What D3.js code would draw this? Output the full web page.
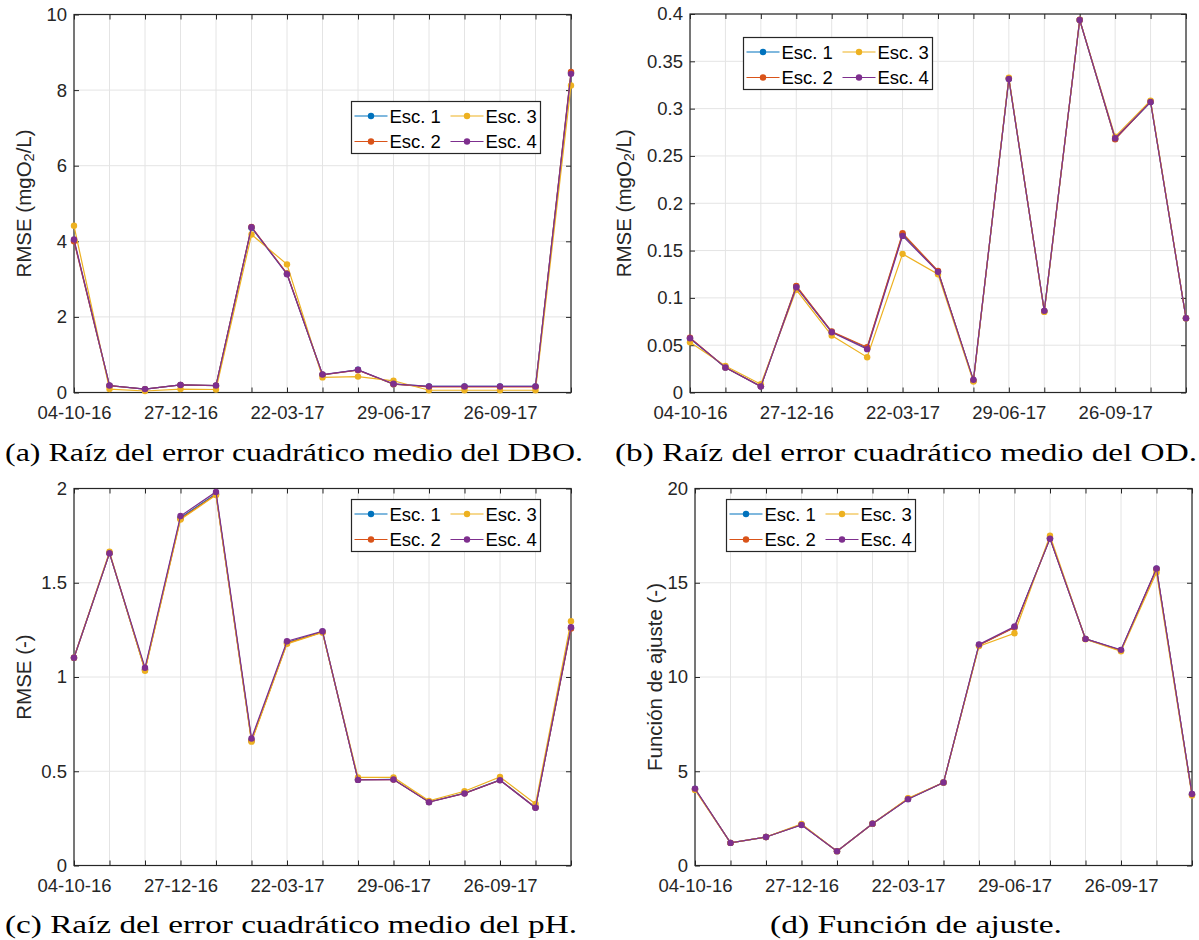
<!DOCTYPE html>
<html><head><meta charset="utf-8">
<script src="https://cdn.jsdelivr.net/npm/d3@7"></script>
<style>body{margin:0;background:#fff}svg{display:block}</style>
</head><body>
<svg id="fig" width="1199" height="940"></svg>
<script>
// ---------- data ----------
const nPoints = 15;
const tickPositions = [0, 3, 6, 9, 12];
const tickLabels = ["04-10-16", "27-12-16", "22-03-17", "29-06-17", "26-09-17"];
const seriesNames = ["Esc. 1", "Esc. 2", "Esc. 3", "Esc. 4"];
const seriesColors = ["#0072BD", "#D95319", "#EDB120", "#7E2F8E"];

const dbo1 = [4.02, 0.18, 0.09, 0.20, 0.18, 4.36, 3.14, 0.47, 0.60, 0.22, 0.16, 0.16, 0.16, 0.16, 8.45];
const dbo2 = [4.00, 0.18, 0.09, 0.20, 0.18, 4.38, 3.15, 0.47, 0.59, 0.22, 0.15, 0.15, 0.15, 0.15, 8.48];
const dbo3 = [4.41, 0.09, 0.04, 0.09, 0.08, 4.18, 3.39, 0.40, 0.42, 0.31, 0.06, 0.06, 0.06, 0.06, 8.12];
const dbo4 = [4.05, 0.185, 0.09, 0.20, 0.185, 4.37, 3.13, 0.475, 0.60, 0.23, 0.16, 0.16, 0.16, 0.16, 8.43];

const od1 = [0.057, 0.0265, 0.0065, 0.112, 0.064, 0.047, 0.167, 0.128, 0.0125, 0.3315, 0.086, 0.3937, 0.268, 0.307, 0.0785];
const od2 = [0.058, 0.0265, 0.0065, 0.1127, 0.0644, 0.0479, 0.1683, 0.1285, 0.0125, 0.332, 0.086, 0.394, 0.2676, 0.3075, 0.0785];
const od3 = [0.053, 0.028, 0.0088, 0.1085, 0.0602, 0.0373, 0.1465, 0.125, 0.0116, 0.3327, 0.0852, 0.3937, 0.2704, 0.3085, 0.0785];
const od4 = [0.0574, 0.0264, 0.0063, 0.1113, 0.0637, 0.0458, 0.1655, 0.1275, 0.0134, 0.3313, 0.0863, 0.3937, 0.2687, 0.307, 0.0785];

const ph1 = [1.102, 1.657, 1.040, 1.845, 1.972, 0.665, 1.183, 1.240, 0.455, 0.457, 0.337, 0.384, 0.454, 0.308, 1.260];
const ph2 = [1.102, 1.657, 1.039, 1.840, 1.968, 0.662, 1.180, 1.238, 0.455, 0.456, 0.337, 0.383, 0.453, 0.308, 1.257];
const ph3 = [1.102, 1.665, 1.033, 1.835, 1.965, 0.657, 1.176, 1.236, 0.467, 0.467, 0.343, 0.394, 0.470, 0.326, 1.296];
const ph4 = [1.102, 1.657, 1.049, 1.854, 1.982, 0.674, 1.190, 1.243, 0.454, 0.456, 0.336, 0.382, 0.452, 0.306, 1.264];

const fa1 = [4.06, 1.20, 1.51, 2.17, 0.76, 2.22, 3.53, 4.40, 11.70, 12.64, 17.36, 12.02, 11.42, 15.74, 3.78];
const fa2 = [4.05, 1.20, 1.51, 2.17, 0.76, 2.22, 3.54, 4.40, 11.68, 12.62, 17.36, 12.02, 11.40, 15.72, 3.77];
const fa3 = [4.01, 1.20, 1.51, 2.20, 0.76, 2.22, 3.57, 4.40, 11.64, 12.32, 17.50, 12.00, 11.36, 15.55, 3.71];
const fa4 = [4.08, 1.20, 1.51, 2.15, 0.76, 2.22, 3.52, 4.40, 11.73, 12.68, 17.34, 12.02, 11.44, 15.76, 3.79];

const yTicksA = [0, 2, 4, 6, 8, 10];
const yTicksB = [0, 0.05, 0.1, 0.15, 0.2, 0.25, 0.3, 0.35, 0.4];
const yTicksC = [0, 0.5, 1, 1.5, 2];
const yTicksD = [0, 5, 10, 15, 20];

// ---------- layout ----------
const svg = d3.select("#fig");
const AX = "#262626", GRID = "#e4e4e4";
const SANS = "'Liberation Sans', Arial, sans-serif";
const TICKFONT = "18.5px " + SANS;

const panels = [
  {series: [dbo1, dbo2, dbo3, dbo4], yTicks: yTicksA, yMax: 10, x0: 74, x1: 571, y0: 14.5, y1: 392.5,
   ylabel: ["RMSE (mgO", "2", "/L)"], ylabelX: 23, legend: {x: 351.5, y: 101.5},
   caption: "(a) Raíz del error cuadrático medio del DBO.", capX: 5, capW: 578, capY: 461},
  {series: [od1, od2, od3, od4], yTicks: yTicksB, yMax: 0.4, x0: 690, x1: 1186, y0: 14, y1: 392.5,
   ylabel: ["RMSE (mgO", "2", "/L)"], ylabelX: 623, legend: {x: 743.5, y: 37.5},
   caption: "(b) Raíz del error cuadrático medio del OD.", capX: 615, capW: 582, capY: 461},
  {series: [ph1, ph2, ph3, ph4], yTicks: yTicksC, yMax: 2, x0: 74, x1: 571, y0: 488.5, y1: 865.5,
   ylabel: ["RMSE (-)"], ylabelX: 23, legend: {x: 351.5, y: 499.5},
   caption: "(c) Raíz del error cuadrático medio del pH.", capX: 5, capW: 572, capY: 933},
  {series: [fa1, fa2, fa3, fa4], yTicks: yTicksD, yMax: 20, x0: 695, x1: 1192, y0: 488.5, y1: 865.5,
   ylabel: ["Función de ajuste (-)"], ylabelX: 654, legend: {x: 726.5, y: 499.5},
   caption: "(d) Función de ajuste.", capX: 770, capW: 292, capY: 933}
];

panels.forEach(p => {
  const g = svg.append("g");
  const x = d3.scaleLinear().domain([0, nPoints - 1]).range([p.x0, p.x1]);
  const y = d3.scaleLinear().domain([0, p.yMax]).range([p.y1, p.y0]);
  const allX = d3.range(nPoints);

  // grid
  g.append("g").selectAll("line").data(allX).join("line")
    .attr("x1", d => x(d)).attr("x2", d => x(d)).attr("y1", p.y0).attr("y2", p.y1)
    .attr("stroke", GRID).attr("stroke-width", 1);
  g.append("g").selectAll("line").data(p.yTicks).join("line")
    .attr("x1", p.x0).attr("x2", p.x1).attr("y1", d => y(d)).attr("y2", d => y(d))
    .attr("stroke", GRID).attr("stroke-width", 1);

  // axes (ticks inward)
  const tickLen = 5;
  const xb = d3.axisBottom(x).tickValues(allX).tickSizeInner(-tickLen).tickSizeOuter(0)
    .tickFormat(d => { const i = tickPositions.indexOf(d); return i >= 0 ? tickLabels[i] : ""; }).tickPadding(13);
  const xt = d3.axisTop(x).tickValues(allX).tickSizeInner(-tickLen).tickSizeOuter(0).tickFormat("");
  const yl = d3.axisLeft(y).tickValues(p.yTicks).tickSizeInner(-tickLen).tickSizeOuter(0).tickFormat(d3.format("~g")).tickPadding(7);
  const yr = d3.axisRight(y).tickValues(p.yTicks).tickSizeInner(-tickLen).tickSizeOuter(0).tickFormat("");
  const axes = [
    g.append("g").attr("transform", `translate(0,${p.y1})`).call(xb),
    g.append("g").attr("transform", `translate(0,${p.y0})`).call(xt),
    g.append("g").attr("transform", `translate(${p.x0},0)`).call(yl),
    g.append("g").attr("transform", `translate(${p.x1},0)`).call(yr)
  ];
  axes.forEach(a => {
    a.select(".domain").remove();
    a.selectAll(".tick line").attr("stroke", AX).attr("stroke-width", 1);
    a.selectAll(".tick text").attr("fill", AX).style("font", TICKFONT);
  });
  // box
  g.append("rect").attr("x", p.x0).attr("y", p.y0).attr("width", p.x1 - p.x0).attr("height", p.y1 - p.y0)
    .attr("fill", "none").attr("stroke", AX).attr("stroke-width", 1.2);

  // series
  const line = d3.line().x((d, i) => x(i)).y(d => y(d));
  p.series.forEach((s, k) => {
    g.append("path").datum(s).attr("d", line).attr("fill", "none")
      .attr("stroke", seriesColors[k]).attr("stroke-width", 1.2);
    g.append("g").selectAll("circle").data(s).join("circle")
      .attr("cx", (d, i) => x(i)).attr("cy", d => y(d)).attr("r", 3.2).attr("fill", seriesColors[k]);
  });

  // y label
  const yc = (p.y0 + p.y1) / 2;
  const lab = g.append("text").attr("transform", `translate(${p.ylabelX},${yc}) rotate(-90)`)
    .attr("text-anchor", "middle").attr("dominant-baseline", "central")
    .attr("fill", AX).style("font", "20.5px " + SANS);
  lab.append("tspan").text(p.ylabel[0]);
  if (p.ylabel.length > 1) {
    lab.append("tspan").attr("dy", 6).style("font-size", "14.5px").text(p.ylabel[1]);
    lab.append("tspan").attr("dy", -6).text(p.ylabel[2]);
  }

  // legend
  const L = p.legend, lw = 189, lh = 52;
  const lg = g.append("g").attr("transform", `translate(${L.x},${L.y})`);
  lg.append("rect").attr("width", lw).attr("height", lh).attr("fill", "#fff").attr("stroke", AX).attr("stroke-width", 1.2);
  seriesNames.forEach((name, k) => {
    const col = Math.floor(k / 2), row = k % 2;
    const ox = 3 + col * 96, oy = 14.5 + row * 25.5;
    lg.append("line").attr("x1", ox).attr("x2", ox + 33).attr("y1", oy).attr("y2", oy)
      .attr("stroke", seriesColors[k]).attr("stroke-width", 1.2);
    lg.append("circle").attr("cx", ox + 16.5).attr("cy", oy).attr("r", 3.2).attr("fill", seriesColors[k]);
    lg.append("text").attr("x", ox + 35).attr("y", oy).attr("dominant-baseline", "central")
      .attr("fill", "#000").style("font", "18.5px " + SANS).text(name);
  });

  // caption
  svg.append("text").attr("x", p.capX).attr("y", p.capY)
    .attr("textLength", p.capW).attr("lengthAdjust", "spacingAndGlyphs")
    .attr("fill", "#000").style("font", "26px 'Liberation Serif', 'DejaVu Serif', serif").text(p.caption);
});
</script>
</body></html>
